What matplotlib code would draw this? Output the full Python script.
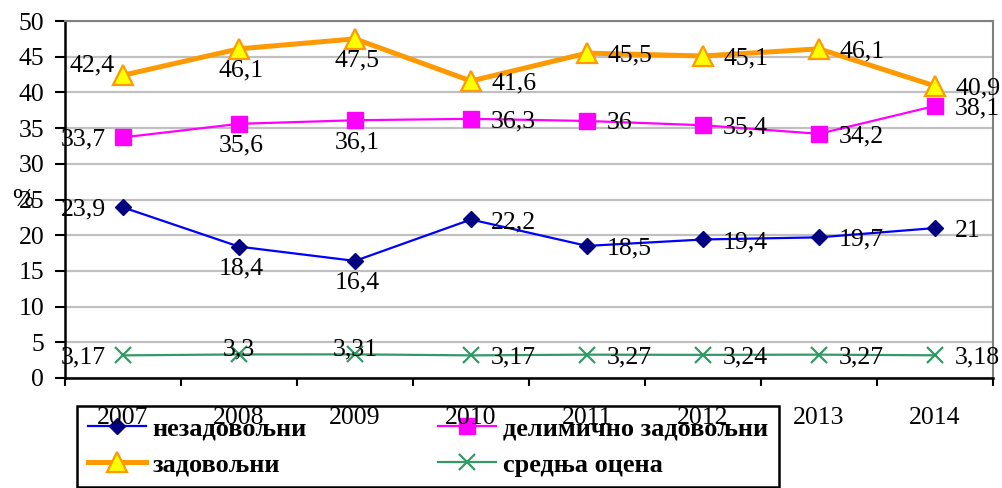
import matplotlib
matplotlib.use("Agg")
import matplotlib.pyplot as plt
from matplotlib.ticker import FixedLocator, MultipleLocator
import numpy as np

years = ["2007", "2008", "2009", "2010", "2011", "2012", "2013", "2014"]
nezadovoljni = [23.9, 18.4, 16.4, 22.2, 18.5, 19.4, 19.7, 21.0]
delimicno = [33.7, 35.6, 36.1, 36.3, 36.0, 35.4, 34.2, 38.1]
zadovoljni = [42.4, 46.1, 47.5, 41.6, 45.5, 45.1, 46.1, 40.9]
srednja = [3.17, 3.30, 3.31, 3.17, 3.27, 3.24, 3.27, 3.18]

lbl_nez = ["23,9", "18,4", "16,4", "22,2", "18,5", "19,4", "19,7", "21"]
lbl_del = ["33,7", "35,6", "36,1", "36,3", "36", "35,4", "34,2", "38,1"]
lbl_zad = ["42,4", "46,1", "47,5", "41,6", "45,5", "45,1", "46,1", "40,9"]
lbl_sr = ["3,17", "3,3", "3,31", "3,17", "3,27", "3,24", "3,27", "3,18"]

pos_nez = ["left", "below", "below", "right", "right", "right", "right", "right"]
pos_del = ["left", "below", "below", "right", "right", "right", "right", "right"]
pos_zad = ["upleft", "below", "below", "right", "right", "right", "right", "right"]
pos_sr = ["left", "above", "above", "right", "right", "right", "right", "right"]

series_names = ["незадовољни", "делимично задовољни", "задовољни", "средња оцена"]

plt.rcParams['font.family'] = ['Liberation Serif', 'DejaVu Serif']

fig = plt.figure(figsize=(10.02, 4.88), dpi=100)
ax = fig.add_axes([65/1002, 1-378/488, (993-65)/1002, (378-21)/488])

x = np.arange(len(years))

l1, = ax.plot(x, nezadovoljni, color="#0000FF", lw=1.6, marker="D", ms=8.3,
              mfc="#000080", mec="#000080", zorder=4, clip_on=False)
l2, = ax.plot(x, delimicno, color="#FF00FF", lw=1.6, marker="s", ms=11.5,
              mfc="#FF00FF", mec="#FF00FF", zorder=4, clip_on=False)
l3, = ax.plot(x, zadovoljni, color="#FF9900", lw=3.6, marker="^", ms=15,
              mfc="#FFFF00", mec="#FF9900", mew=1.6, zorder=5, clip_on=False)
l4, = ax.plot(x, srednja, color="#339966", lw=1.6, marker="x", ms=12,
              mew=1.6, zorder=4, clip_on=False)


def place(vals, labels, poss):
    for xi, v, t, p in zip(x, vals, labels, poss):
        if p == "right":
            off, ha, va = (20, 0), "left", "center_baseline"
        elif p == "left":
            off, ha, va = (-17, 0), "right", "center_baseline"
        elif p == "upleft":
            off, ha, va = (-8, 12), "right", "center_baseline"
        elif p == "below":
            off, ha, va = (2, -11), "center", "top"
        else:
            off, ha, va = (0, -1), "center", "baseline"
        ax.annotate(t, (xi, v), xytext=off, textcoords="offset pixels",
                    ha=ha, va=va, fontsize=18.5, color="black", zorder=6,
                    annotation_clip=False)


place(nezadovoljni, lbl_nez, pos_nez)
place(delimicno, lbl_del, pos_del)
place(zadovoljni, lbl_zad, pos_zad)
place(srednja, lbl_sr, pos_sr)

ax.set_xlim(-0.5, len(years) - 0.5)
ax.set_ylim(0, 50)
ax.yaxis.set_major_locator(MultipleLocator(5))
ax.set_xticks(x)
ax.set_xticklabels(years)
ax.xaxis.set_minor_locator(FixedLocator(np.arange(len(years) + 1) - 0.5))
ax.tick_params(axis="x", which="major", length=0, pad=21, labelsize=18.5)
ax.tick_params(axis="x", which="minor", length=6, width=1.5, direction="out", color="black")
ax.tick_params(axis="y", which="major", length=7, width=1.5, direction="out", pad=8, labelsize=18.5)

ax.grid(axis="y", color="#c0c0c0", lw=1.6, zorder=0)
ax.set_axisbelow(True)
for s in ["left", "bottom"]:
    ax.spines[s].set_color("black")
    ax.spines[s].set_linewidth(1.8)
for s in ["top", "right"]:
    ax.spines[s].set_color("#808080")
    ax.spines[s].set_linewidth(1.5)

fig.text(12/1002, 1-200/488, "%", fontsize=18.5, ha="left", va="center")

# column-major order for a 2-column legend: row1 = нез, дел; row2 = зад, сред
handles = [l1, l3, l2, l4]
names = [series_names[0], series_names[2], series_names[1], series_names[3]]
leg = fig.legend(handles, names, loc="upper left",
                 bbox_to_anchor=(77/1002, 1-406/488), ncol=2,
                 prop={"weight": "bold", "size": 19}, frameon=True,
                 fancybox=False, edgecolor="black", facecolor="white",
                 framealpha=1, handlelength=2.2, handletextpad=0.25,
                 columnspacing=5.0, borderpad=0.4, labelspacing=0.5,
                 borderaxespad=0)
leg.get_frame().set_linewidth(1.8)
leg.set_zorder(-1)

fig.savefig("out.png", dpi=100)
